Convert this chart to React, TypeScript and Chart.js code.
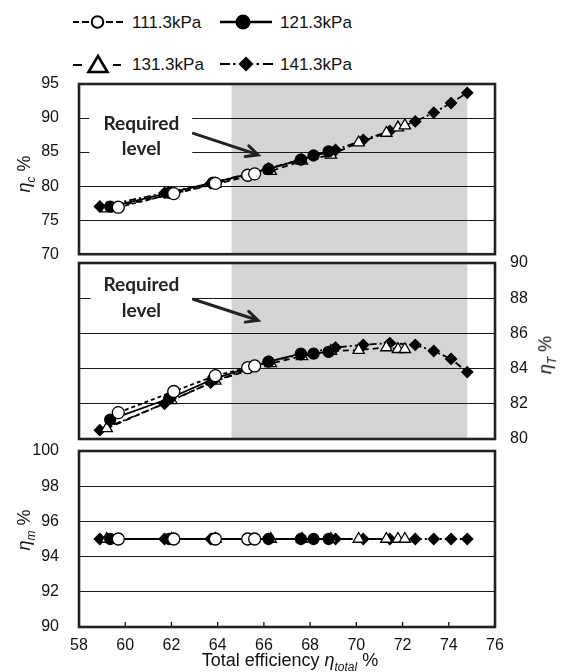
import React, { useEffect, useRef } from "react";
import { Chart, registerables } from "chart.js";

Chart.register(...registerables);

// ---------------- data ----------------
const seriesLabels = ["111.3kPa", "121.3kPa", "131.3kPa", "141.3kPa"];

const totalEff111 = [59.7, 62.1, 63.9, 65.3, 65.6];
const etaC111 = [76.9, 78.9, 80.4, 81.6, 81.8];
const etaT111 = [81.5, 82.7, 83.6, 84.05, 84.15];
const etaM111 = [95, 95, 95, 95, 95];

const totalEff121 = [59.35, 61.9, 63.8, 66.2, 67.6, 68.15, 68.8];
const etaC121 = [77.0, 79.0, 80.5, 82.5, 83.9, 84.5, 85.1];
const etaT121 = [81.1, 82.3, 83.4, 84.4, 84.85, 84.85, 84.95];
const etaM121 = [95, 95, 95, 95, 95, 95, 95];

const totalEff131 = [59.2, 62.0, 63.9, 66.3, 67.65, 68.9, 70.1, 71.3, 71.8, 72.1];
const etaC131 = [76.7, 78.8, 80.3, 82.2, 83.7, 84.6, 86.4, 87.8, 88.6, 88.9];
const etaT131 = [80.6, 82.2, 83.3, 84.3, 84.7, 85.0, 85.05, 85.2, 85.1, 85.1];
const etaM131 = [95, 95, 95, 95, 95, 95, 95, 95, 95, 95];

const totalEff141 = [58.9, 61.7, 63.7, 66.2, 67.6, 69.1, 70.3, 71.45, 72.55, 73.35, 74.1, 74.8];
const etaC141 = [77.0, 79.0, 80.4, 82.6, 83.9, 85.3, 86.8, 88.1, 89.5, 90.8, 92.2, 93.7];
const etaT141 = [80.5, 82.0, 83.2, 84.4, 84.8, 85.2, 85.35, 85.45, 85.35, 85.0, 84.55, 83.8];
const etaM141 = [95, 95, 95, 95, 95, 95, 95, 95, 95, 95, 95, 95];

const xTicks = [58, 60, 62, 64, 66, 68, 70, 72, 74, 76];
const etaCTicks = [70, 75, 80, 85, 90, 95];
const etaTTicks = [80, 82, 84, 86, 88, 90];
const etaMTicks = [90, 92, 94, 96, 98, 100];

const requiredRange = [64.6, 74.8];
const noteLines = ["Required", "level"];

// ---------------- styles ----------------
const FONT = "'Liberation Sans', Arial, sans-serif";
const SHADE = "#d4d4d4";
const GRID = "#1a1a1a";

type SeriesStyle = {
  pointStyle: any;
  radius: number;
  bg: string;
  dash: number[];
};
const styles: SeriesStyle[] = [
  { pointStyle: "circle", radius: 6, bg: "#ffffff", dash: [4, 3] },
  { pointStyle: "circle", radius: 5.5, bg: "#000000", dash: [] },
  { pointStyle: "triangle", radius: 6.5, bg: "#ffffff", dash: [6, 4] },
  { pointStyle: "rectRot", radius: 5.5, bg: "#000000", dash: [7, 3, 2, 3] },
];

const xs = [totalEff111, totalEff121, totalEff131, totalEff141];

function makeDatasets(ys: number[][]) {
  return ys.map((y, i) => ({
    label: seriesLabels[i],
    data: xs[i].map((xv, j) => ({ x: xv, y: y[j] })),
    borderColor: "#000",
    borderWidth: 1.8,
    borderDash: styles[i].dash,
    pointStyle: styles[i].pointStyle,
    pointRadius: styles[i].radius,
    pointBackgroundColor: styles[i].bg,
    pointBorderColor: "#000",
    pointBorderWidth: 1.3,
    tension: 0,
    fill: false,
  }));
}

// ---------------- plugin ----------------
const decorPlugin = {
  id: "decor",
  beforeDraw(chart: any, _a: any, opts: any) {
    const { ctx, chartArea, scales } = chart;
    if (opts.shade) {
      const x0 = scales.x.getPixelForValue(opts.shade[0]);
      const x1 = scales.x.getPixelForValue(opts.shade[1]);
      ctx.save();
      ctx.fillStyle = SHADE;
      ctx.fillRect(x0, chartArea.top, x1 - x0, chartArea.bottom - chartArea.top);
      ctx.restore();
    }
  },
  beforeDatasetsDraw(chart: any, _a: any, opts: any) {
    const n = opts.note;
    if (!n) return;
    const { ctx, scales } = chart;
    const x = scales.x;
    const y = scales.y;
    ctx.save();
    ctx.fillStyle = "#ffffff";
    const bx0 = x.getPixelForValue(n.box[0]);
    const bx1 = x.getPixelForValue(n.box[1]);
    const by0 = y.getPixelForValue(n.box[2]);
    const by1 = y.getPixelForValue(n.box[3]);
    ctx.fillRect(bx0, by0, bx1 - bx0, by1 - by0);
    ctx.fillStyle = "#222";
    ctx.font = "bold 19px Lato, 'Open Sans', sans-serif";
    ctx.textAlign = "center";
    ctx.textBaseline = "middle";
    noteLines.forEach((t, i) => {
      ctx.fillText(t, x.getPixelForValue(n.textX), y.getPixelForValue(n.textY[i]));
    });
    const ax0 = x.getPixelForValue(n.arrow[0]);
    const ay0 = y.getPixelForValue(n.arrow[1]);
    const ax1 = x.getPixelForValue(n.arrow[2]);
    const ay1 = y.getPixelForValue(n.arrow[3]);
    const ang = Math.atan2(ay1 - ay0, ax1 - ax0);
    ctx.strokeStyle = "#222";
    ctx.lineWidth = 3;
    ctx.lineCap = "round";
    ctx.beginPath();
    ctx.moveTo(ax0, ay0);
    ctx.lineTo(ax1 - 2 * Math.cos(ang), ay1 - 2 * Math.sin(ang));
    ctx.stroke();
    const hl = 13;
    ctx.beginPath();
    ctx.moveTo(ax1 - hl * Math.cos(ang - 0.45), ay1 - hl * Math.sin(ang - 0.45));
    ctx.lineTo(ax1, ay1);
    ctx.lineTo(ax1 - hl * Math.cos(ang + 0.45), ay1 - hl * Math.sin(ang + 0.45));
    ctx.stroke();
    ctx.restore();
  },
  afterDraw(chart: any, _a: any, opts: any) {
    const { ctx, chartArea, scales } = chart;
    ctx.save();
    if (opts.innerTicks) {
      ctx.strokeStyle = "#000";
      ctx.lineWidth = 1.2;
      scales.x.ticks.forEach((t: any) => {
        const px = scales.x.getPixelForValue(t.value);
        ctx.beginPath();
        ctx.moveTo(px, chartArea.bottom);
        ctx.lineTo(px, chartArea.bottom - 5);
        ctx.stroke();
      });
    }
    ctx.strokeStyle = "#222";
    ctx.lineWidth = 2.6;
    ctx.strokeRect(
      chartArea.left,
      chartArea.top,
      chartArea.right - chartArea.left,
      chartArea.bottom - chartArea.top
    );
    ctx.restore();
  },
};

type PanelProps = {
  top: number;
  height: number;
  padTop: number;
  padBottom: number;
  ys: number[][];
  yTicks: number[];
  yRight?: boolean;
  showX?: boolean;
  shade?: number[] | null;
  note?: any;
};

function zeroPad(s: any) {
  s.paddingTop = 0;
  s.paddingBottom = 0;
  s.paddingLeft = 0;
  s.paddingRight = 0;
}

function Panel(p: PanelProps) {
  const ref = useRef<HTMLCanvasElement | null>(null);
  useEffect(() => {
    if (!ref.current) return;
    const yMin = p.yTicks[0];
    const yMax = p.yTicks[p.yTicks.length - 1];
    const chart = new Chart(ref.current, {
      type: "line",
      data: { datasets: makeDatasets(p.ys) as any },
      plugins: [decorPlugin as any],
      options: {
        animation: false,
        responsive: true,
        maintainAspectRatio: false,
        layout: {
          padding: {
            top: p.padTop,
            bottom: p.padBottom,
            left: p.yRight ? 79 : 0,
            right: p.yRight ? 0 : 69,
          },
        },
        plugins: {
          legend: { display: false },
          tooltip: { enabled: false },
          decor: {
            shade: p.shade || null,
            note: p.note || null,
            innerTicks: !!p.showX,
          },
        } as any,
        scales: {
          x: {
            type: "linear",
            min: xTicks[0],
            max: xTicks[xTicks.length - 1],
            display: !!p.showX,
            afterBuildTicks: (s: any) => {
              s.ticks = xTicks.map((v) => ({ value: v }));
            },
            afterFit: (s: any) => {
              s.height = p.showX ? 45 : 0;
              zeroPad(s);
            },
            grid: { display: false, drawTicks: false },
            border: { display: false },
            ticks: {
              autoSkip: false,
              color: "#111",
              padding: 9,
              font: { family: FONT, size: 16 },
              maxRotation: 0,
            },
          },
          y: {
            type: "linear",
            position: p.yRight ? "right" : "left",
            min: yMin,
            max: yMax,
            afterBuildTicks: (s: any) => {
              s.ticks = p.yTicks.map((v) => ({ value: v }));
            },
            afterFit: (s: any) => {
              s.width = p.yRight ? 69 : 79;
              zeroPad(s);
            },
            grid: { color: GRID, lineWidth: 1, drawTicks: false },
            border: { display: false },
            ticks: {
              autoSkip: false,
              color: "#111",
              padding: p.yRight ? 15 : 20,
              font: { family: FONT, size: 16 },
            },
          },
        },
      },
    });
    return () => chart.destroy();
  }, []);
  return (
    <div style={{ position: "absolute", left: 0, top: p.top, width: 564, height: p.height }}>
      <canvas ref={ref} />
    </div>
  );
}

// ---------------- legend ----------------
function LegendMarker({ type, cx, cy }: { type: string; cx: number; cy: number }) {
  if (type === "circle")
    return <circle cx={cx} cy={cy} r={5.8} fill="#fff" stroke="#000" strokeWidth={2} />;
  if (type === "disc") return <circle cx={cx} cy={cy} r={7.5} fill="#000" />;
  if (type === "triangle")
    return (
      <polygon
        points={`${cx},${cy - 8} ${cx + 9.5},${cy + 8} ${cx - 9.5},${cy + 8}`}
        fill="#fff"
        stroke="#000"
        strokeWidth={2.6}
        strokeLinejoin="miter"
      />
    );
  return (
    <polygon points={`${cx},${cy - 7.5} ${cx + 7.5},${cy} ${cx},${cy + 7.5} ${cx - 7.5},${cy}`} fill="#000" />
  );
}

function Legend() {
  const seg = (x1: number, x2: number, y: number, w = 2) => (
    <line x1={x1} x2={x2} y1={y} y2={y} stroke="#000" strokeWidth={w} />
  );
  const textStyle = { fontFamily: FONT, fontSize: 17, fill: "#111" } as any;
  return (
    <svg width={564} height={80} style={{ position: "absolute", left: 0, top: 0 }}>
      {seg(73, 79, 22)}
      {seg(82, 89, 22)}
      {seg(106, 113, 22)}
      {seg(116, 123, 22)}
      <LegendMarker type="circle" cx={97.5} cy={22} />
      <text x={132} y={28} style={textStyle}>{seriesLabels[0]}</text>
      {seg(220, 272, 22, 2.4)}
      <LegendMarker type="disc" cx={243} cy={22} />
      <text x={280} y={28} style={textStyle}>{seriesLabels[1]}</text>
      {seg(73, 82, 65)}
      {seg(113, 121, 65)}
      <LegendMarker type="triangle" cx={98} cy={64} />
      <text x={132} y={70} style={textStyle}>{seriesLabels[2]}</text>
      {seg(220, 230, 64)}
      {seg(233, 235.5, 64)}
      {seg(256.5, 259, 64)}
      {seg(263, 273, 64)}
      <LegendMarker type="diamond" cx={246} cy={64} />
      <text x={280} y={70} style={textStyle}>{seriesLabels[3]}</text>
    </svg>
  );
}

function RotTitle({ cx, cy, sym, sub }: { cx: number; cy: number; sym: string; sub: string }) {
  return (
    <div
      style={{
        position: "absolute",
        left: cx,
        top: cy,
        transform: "translate(-50%, -50%) rotate(-90deg)",
        whiteSpace: "nowrap",
        fontFamily: FONT,
        fontSize: 18,
        color: "#111",
        lineHeight: 1,
      }}
    >
      <i>{sym}</i>
      <sub style={{ fontSize: 12, fontStyle: "italic" }}>{sub}</sub> %
    </div>
  );
}

export default function App() {
  return (
    <div style={{ position: "absolute", left: 0, top: 0, width: 564, height: 672, background: "#fff" }}>
      <Legend />
      <Panel
        top={70}
        height={192}
        padTop={14}
        padBottom={7}
        ys={[etaC111, etaC121, etaC131, etaC141]}
        yTicks={etaCTicks}
        shade={requiredRange}
        note={{
          box: [58.45, 62.9, 94.0, 84.4],
          textX: 60.7,
          textY: [89.1, 85.5],
          arrow: [62.95, 87.75, 65.75, 84.6],
        }}
      />
      <Panel
        top={252}
        height={196}
        padTop={11}
        padBottom={9}
        ys={[etaT111, etaT121, etaT131, etaT141]}
        yTicks={etaTTicks}
        yRight
        shade={requiredRange}
        note={{
          box: [58.5, 62.9, 89.6, 86.5],
          textX: 60.7,
          textY: [88.74, 87.3],
          arrow: [62.95, 87.94, 65.75, 86.74],
        }}
      />
      <Panel
        top={440}
        height={232}
        padTop={11}
        padBottom={0}
        ys={[etaM111, etaM121, etaM131, etaM141]}
        yTicks={etaMTicks}
        showX
      />
      <RotTitle cx={26} cy={174} sym="η" sub="c" />
      <RotTitle cx={547} cy={355} sym="η" sub="T" />
      <RotTitle cx={26} cy={530} sym="η" sub="m" />
      <div
        style={{
          position: "absolute",
          left: 290,
          top: 662,
          transform: "translate(-50%, -50%)",
          whiteSpace: "nowrap",
          fontFamily: FONT,
          fontSize: 18,
          color: "#111",
          lineHeight: 1,
        }}
      >
        Total efficiency <i>η</i>
        <sub style={{ fontSize: 12, fontStyle: "italic" }}>total</sub> %
      </div>
    </div>
  );
}
